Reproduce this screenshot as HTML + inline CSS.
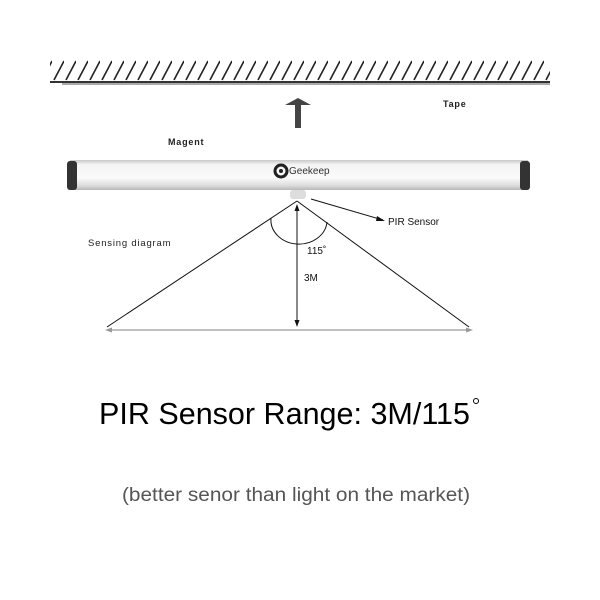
<!DOCTYPE html>
<html><head><style>body{margin:0;background:#fff}svg{display:block}</style></head><body>
<svg width="600" height="600" viewBox="0 0 600 600" xmlns="http://www.w3.org/2000/svg">
<defs>
<linearGradient id="bar" x1="0" y1="0" x2="0" y2="1">
<stop offset="0" stop-color="#c8c8c8"/><stop offset="0.15" stop-color="#f4f4f4"/><stop offset="0.6" stop-color="#fafafa"/><stop offset="0.85" stop-color="#dcdcdc"/><stop offset="1" stop-color="#b8b8b8"/>
</linearGradient>
<pattern id="h" x="52" y="0" width="12" height="600" patternUnits="userSpaceOnUse">
<line x1="2" y1="80" x2="12" y2="61" stroke="#222" stroke-width="1.6"/>
</pattern>
</defs>
<rect x="50" y="60" width="500" height="21" fill="url(#h)"/>
<line x1="50" y1="82" x2="550" y2="82" stroke="#333" stroke-width="2"/>
<line x1="62" y1="84" x2="550" y2="84" stroke="#555" stroke-width="1"/>
<polygon points="285,105 298,98 311,105" fill="#444"/>
<rect x="295" y="104" width="6" height="24" fill="#444"/>
<g font-family="Liberation Sans, sans-serif" font-size="9" font-weight="bold" fill="#222" letter-spacing="0.8">
<text x="443" y="107">Tape</text>
<text x="168" y="145">Magent</text>
<text x="88" y="246" font-weight="normal" font-size="9.5">Sensing diagram</text>
</g>
<rect x="70" y="160" width="458" height="30" fill="url(#bar)"/>
<rect x="67" y="161" width="10" height="29" rx="3" fill="#333"/>
<rect x="520" y="161" width="10" height="29" rx="3" fill="#333"/>
<circle cx="281" cy="171" r="6" fill="none" stroke="#222" stroke-width="3"/>
<circle cx="281" cy="171" r="2" fill="#222"/>
<text x="289" y="174" font-family="Liberation Sans, sans-serif" font-size="10" fill="#333">Geekeep</text>
<rect x="290" y="190" width="16" height="9" rx="3" fill="#ddd"/>
<g stroke="#111" stroke-width="1" fill="none">
<line x1="297" y1="201" x2="107" y2="327"/>
<line x1="297" y1="201" x2="469" y2="327"/>
<line x1="297" y1="206" x2="297" y2="325"/>
<path d="M271,218 A28,24 0 0 0 327,222"/>
<line x1="311" y1="199" x2="383" y2="220"/>
</g>
<polygon points="297,204 294.5,211 299.5,211" fill="#111"/>
<polygon points="297,327 294.5,320 299.5,320" fill="#111"/>
<polygon points="385,221 377,216 376,221" fill="#111"/>
<line x1="108" y1="330" x2="470" y2="330" stroke="#999" stroke-width="1.3"/>
<polygon points="105,330 112,327.5 112,332.5" fill="#999"/>
<polygon points="473,330 466,327.5 466,332.5" fill="#999"/>
<g font-family="Liberation Sans, sans-serif" font-size="10" fill="#111">
<text x="388" y="225">PIR Sensor</text>
<text x="307" y="254">115˚</text>
<text x="304" y="281">3M</text>
</g>
<text x="99" y="424" font-family="Liberation Sans, sans-serif" font-size="31" fill="#000" textLength="371" lengthAdjust="spacingAndGlyphs">PIR Sensor Range: 3M/115</text>
<circle cx="476" cy="401" r="2.5" fill="none" stroke="#000" stroke-width="1"/>
<text x="122" y="501" font-family="Liberation Sans, sans-serif" font-size="19" fill="#555" textLength="348" lengthAdjust="spacingAndGlyphs">(better senor than light on the market)</text>
</svg>
</body></html>
